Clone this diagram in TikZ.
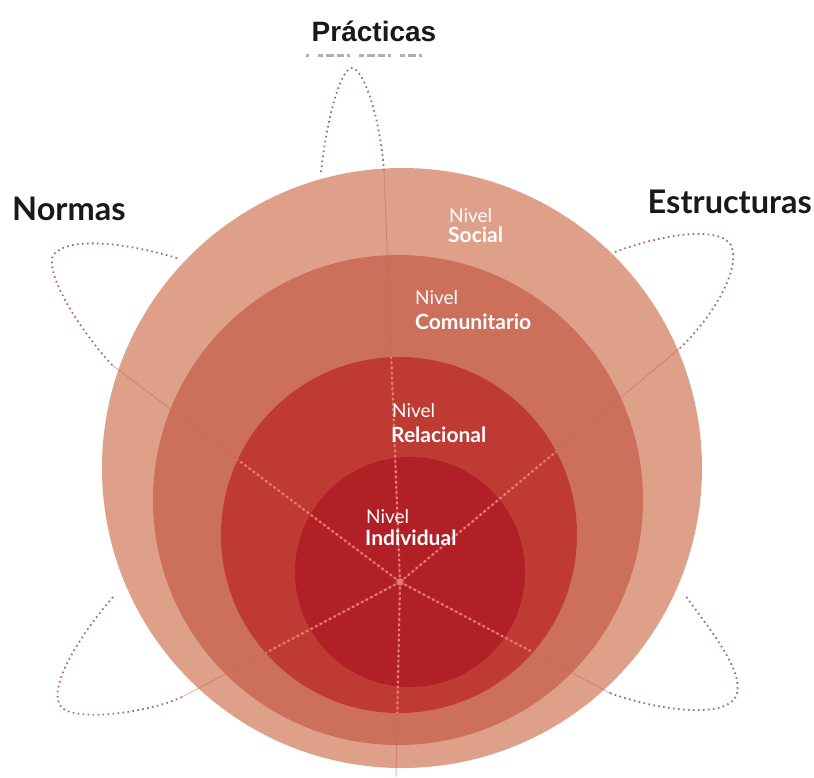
\documentclass[tikz,border=0pt]{standalone}
\usepackage{fontspec}
\setmainfont{Lato}
\newfontfamily\arialfont{Liberation Sans}
\definecolor{socialc}{RGB}{223,160,138}
\definecolor{comunc}{RGB}{204,112,92}
\definecolor{relc}{RGB}{190,58,50}
\definecolor{indc}{RGB}{176,32,38}
\definecolor{petalc}{RGB}{170,100,125}
\definecolor{spoked}{RGB}{240,125,120}
\definecolor{spokef}{RGB}{200,100,90}
\definecolor{titlec}{RGB}{25,25,25}
\definecolor{remnc}{RGB}{175,175,175}
\begin{document}
\begin{tikzpicture}[x=1pt,y=-1pt,
  ring/.style={circle, inner sep=0pt, draw=none},
  petal/.style={draw=petalc, line width=1.8pt, dash pattern=on 1.6pt off 3.4pt},
  spokefaint/.style={draw=spokef, line width=0.9pt, opacity=0.5},
  spokedot/.style={draw=spoked, line width=2.2pt, dash pattern=on 2.2pt off 3pt},
  lvlthin/.style={text=white, font=\fontsize{19}{22}\selectfont, anchor=base west, inner sep=0pt},
  lvlbold/.style={text=white, font=\fontsize{21}{24}\selectfont\bfseries, anchor=base west, inner sep=0pt},
  titlebig/.style={text=titlec, font=\fontsize{32.5}{36}\selectfont\bfseries, inner sep=0pt}]
\useasboundingbox (0,0) rectangle (814,777);
\fill[white] (0,0) rectangle (814,777);

% rings
\node[ring, fill=socialc, minimum size=600pt] (social) at (402,468) {};
\node[ring, fill=comunc, minimum size=490pt] (comun) at (398,500) {};
\node[ring, fill=relc, minimum size=356pt] (rel) at (399,535) {};
\node[ring, fill=indc, minimum size=230pt] (ind) at (410,572) {};

% spoke coordinates
\coordinate (c) at (400,582);
\coordinate (stop) at (384,170);
\coordinate (sul) at (112,365);
\coordinate (sur) at (680,348);
\coordinate (sll) at (182,697);
\coordinate (slr) at (610,693);
\coordinate (sbot) at (396,777);

% faint spokes
\foreach \e in {stop,sul,sur,sll,slr,sbot}{
  \draw[spokefaint] (c) -- (\e);
}
% dotted spokes inside relational circle
\begin{scope}
  \clip (399,535) circle[radius=178pt];
  \foreach \e in {stop,sul,sur,sll,slr,sbot}{
    \draw[spokedot] (c) -- (\e);
  }
\end{scope}
\draw[spoked, line width=1pt] (c) circle[radius=3.2pt];

% petals
\coordinate (ptl) at (321,172);
\coordinate (pul) at (177,258);
\coordinate (pur) at (615,252);
\coordinate (pll) at (113,597);
\coordinate (plr) at (685,595);
\draw[petal] (ptl) .. controls (328,110) and (342,68) .. (352,68) .. controls (362,68) and (379,110) .. (stop);
\draw[petal] (pul) .. controls (130,244) and (70,235) .. (53,255) .. controls (45,275) and (80,330) .. (sul);
\draw[petal] (pur) .. controls (660,235) and (718,225) .. (731,245) .. controls (742,270) and (710,320) .. (sur);
\draw[petal] (pll) .. controls (80,635) and (45,690) .. (62,708) .. controls (80,722) and (150,712) .. (sll);
\draw[petal] (slr) .. controls (650,708) and (720,720) .. (735,698) .. controls (748,675) and (710,630) .. (plr);

% level labels
\node[lvlthin] (n1) at (449,222) {Nivel};
\node[lvlbold] (l1) at (448,242) {Social};
\node[lvlthin] (n2) at (415,304) {Nivel};
\node[lvlbold] (l2) at (415,329) {Comunitario};
\node[lvlthin] (n3) at (392,417) {Nivel};
\node[lvlbold] (l3) at (391,442) {Relacional};
\node[lvlthin] (n4) at (366,523) {Nivel};
\node[lvlbold] (l4) at (365,545) {Individual};

% titles
\node[titlebig, anchor=base west] (normas) at (12,220) {Normas};
\node[titlebig, anchor=base east] (estr) at (812,213) {Estructuras};
\node[text=titlec, font=\arialfont\fontsize{28}{32}\selectfont\bfseries, anchor=base, inner sep=0pt] (prac) at (374,41) {Prácticas};
% remnant marks of a clipped older label below the title
\coordinate (rm1) at (306,55.5);
\coordinate (rm2) at (422,55.5);
\draw[remnc, line width=2.2pt, dash pattern=on 3pt off 9pt on 5pt off 3pt on 8pt off 3pt on 7pt off 3pt] (rm1) -- (rm2);
\end{tikzpicture}
\end{document}
